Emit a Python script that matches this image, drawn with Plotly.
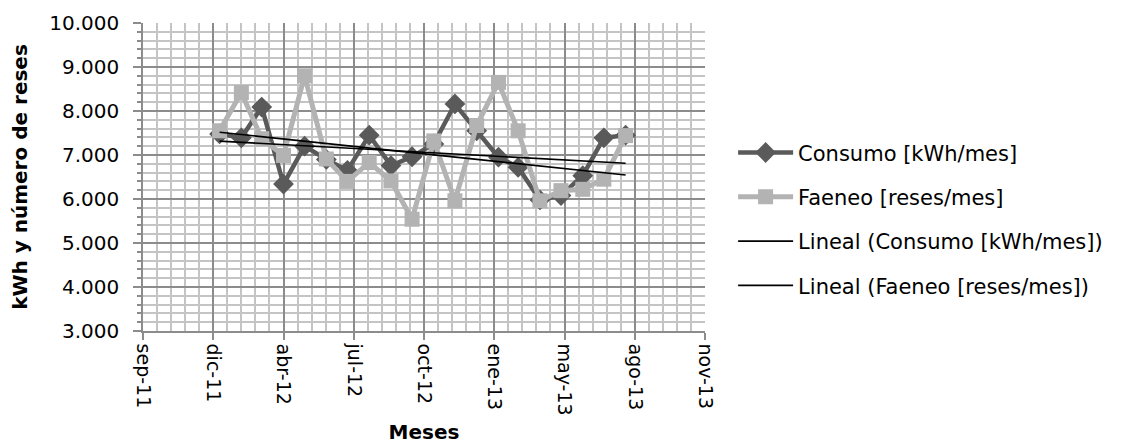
import numpy as np
import pandas as pd
import plotly.graph_objects as go

# ---- data ----
meses = pd.date_range("2012-01-01", "2013-08-01", freq="MS")
consumo = [7480, 7390, 8090, 6340, 7200, 6900, 6650, 7450, 6760, 6960,
           7250, 8160, 7550, 6950, 6720, 5980, 6080, 6530, 7390, 7450]
faeneo = [7550, 8420, 7370, 6990, 8800, 6910, 6400, 6830, 6410, 5540,
          7320, 5960, 7670, 8650, 7550, 5960, 6190, 6220, 6450, 7440]

tick_fechas = ["2011-09-14", "2011-12-23", "2012-04-01", "2012-07-10", "2012-10-18",
               "2013-01-26", "2013-05-06", "2013-08-14", "2013-11-22"]
tick_textos = ["sep-11", "dic-11", "abr-12", "jul-12", "oct-12",
               "ene-13", "may-13", "ago-13", "nov-13"]

FONT = "DejaVu Sans"
DAY_MS = 86400000

# linear trendlines (least squares on day number)
dias = (meses - meses[0]).days.values.astype(float)


def tendencia(vals):
    m, b = np.polyfit(dias, np.array(vals, dtype=float), 1)
    return m * dias + b


fig = go.Figure()
fig.add_trace(go.Scatter(
    x=meses, y=consumo, mode="lines+markers", name="Consumo [kWh/mes]",
    legendgroup="a",
    line=dict(color="#5a5a5a", width=4.5),
    marker=dict(symbol="diamond", size=16, color="#5a5a5a"),
))
fig.add_trace(go.Scatter(
    x=meses, y=faeneo, mode="lines+markers", name="Faeneo [reses/mes]",
    legendgroup="b",
    line=dict(color="#b3b3b3", width=5),
    marker=dict(symbol="square", size=15, color="#b3b3b3"),
))
fig.add_trace(go.Scatter(
    x=[meses[0], meses[-1]], y=[tendencia(consumo)[0], tendencia(consumo)[-1]],
    mode="lines", name="Lineal (Consumo [kWh/mes])", legendgroup="c",
    line=dict(color="black", width=1.6),
))
fig.add_trace(go.Scatter(
    x=[meses[0], meses[-1]], y=[tendencia(faeneo)[0], tendencia(faeneo)[-1]],
    mode="lines", name="Lineal (Faeneo [reses/mes])", legendgroup="d",
    line=dict(color="black", width=1.6),
))

fig.update_layout(
    width=1121, height=448,
    margin=dict(l=143, r=416, t=23, b=117),
    paper_bgcolor="white", plot_bgcolor="white",
    separators=",.",
    font=dict(family=FONT, size=20, color="black"),
    showlegend=True,
    legend=dict(
        x=1.05, y=0.645, xanchor="left", yanchor="top",
        traceorder="grouped", tracegroupgap=14,
        font=dict(family=FONT, size=21, color="black"),
        itemwidth=55, bgcolor="rgba(0,0,0,0)",
    ),
)

fig.update_xaxes(
    type="date", automargin=False,
    range=[tick_fechas[0], tick_fechas[-1]],
    tickmode="array", tickvals=tick_fechas, ticktext=tick_textos,
    tickangle=90,
    tickfont=dict(family=FONT, size=19),
    showgrid=True, gridcolor="#8c8c8c", gridwidth=1.5,
    showline=True, linecolor="#8c8c8c", linewidth=1.5,
    ticks="outside", ticklen=7, tickcolor="#8c8c8c", tickwidth=1.5,
    minor=dict(tick0=tick_fechas[0], dtick=20 * DAY_MS, showgrid=True,
               gridcolor="#c4c4c4", gridwidth=1.5, ticks=""),
    title=dict(text="<b>Meses</b>", font=dict(family=FONT, size=20), standoff=10),
    zeroline=False,
)
fig.update_yaxes(
    range=[3000, 10000], dtick=1000, tick0=3000, automargin=False,
    tickformat=",.0f",
    tickfont=dict(family=FONT, size=20),
    showgrid=True, gridcolor="#8c8c8c", gridwidth=1.5,
    showline=True, linecolor="#8c8c8c", linewidth=1.5,
    ticks="outside", ticklen=8, tickcolor="#8c8c8c", tickwidth=1.5,
    ticklabelstandoff=10,
    minor=dict(dtick=200, showgrid=True, gridcolor="#c4c4c4", gridwidth=1.5,
               ticks="outside", ticklen=4, tickcolor="#8c8c8c"),
    title=dict(text="<b>kWh y número de reses</b>", font=dict(family=FONT, size=20), standoff=16),
    zeroline=False,
)

fig.write_html("out.html")
